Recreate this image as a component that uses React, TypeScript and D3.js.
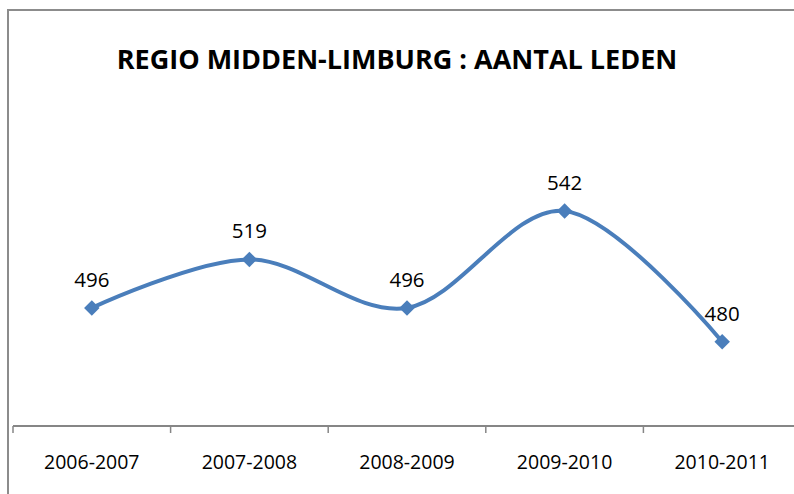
import React from "react";
import * as d3 from "d3";

const categories = ["2006-2007", "2007-2008", "2008-2009", "2009-2010", "2010-2011"];
const members = [496, 519, 496, 542, 480];
const title = "REGIO MIDDEN-LIMBURG : AANTAL LEDEN";

const W = 794;
const H = 494;

export default function App() {
  const plotLeft = 13;
  const plotRight = 801;
  const axisY = 426;
  const x = d3.scaleBand<string>().domain(categories).range([plotLeft, plotRight]);
  const y = d3.scaleLinear().domain([440, 560]).range([axisY, 173]);
  const cx = (c: string) => (x(c) as number) + x.bandwidth() / 2;
  const pts: [number, number][] = categories.map((c, i) => [cx(c), y(members[i])]);
  const line = d3.line().curve(d3.curveCardinal.tension(0))(pts) as string;
  const diamond = d3.symbol().type(d3.symbolSquare).size(120)() as string;
  const bounds = [...categories.map((c) => x(c) as number), plotRight];
  const font = "'Open Sans', 'Liberation Sans', sans-serif";

  return (
    <svg
      width={W}
      height={H}
      style={{ position: "absolute", left: 0, top: 0, background: "#fff" }}
    >
      <rect x={8} y={10} width={W + 20} height={H + 20} fill="#fff" stroke="#8c8c8c" strokeWidth={2} />
      <text
        x={397}
        y={69}
        textAnchor="middle"
        fontFamily={font}
        fontWeight="bold"
        fontSize={27}
        fill="#000"
      >
        {title}
      </text>
      <line x1={plotLeft} x2={plotRight} y1={axisY} y2={axisY} stroke="#868686" strokeWidth={2} />
      {bounds.map((b, i) => (
        <line key={i} x1={b} x2={b} y1={axisY} y2={axisY + 7} stroke="#868686" strokeWidth={1.5} />
      ))}
      {categories.map((c) => (
        <text key={c} x={cx(c)} y={469} textAnchor="middle" fontFamily={font} fontSize={19.5} fill="#000">
          {c}
        </text>
      ))}
      <path d={line} fill="none" stroke="#4a7ebb" strokeWidth={4} />
      {pts.map(([px, py], i) => (
        <path key={i} d={diamond} transform={`translate(${px},${py}) rotate(45)`} fill="#4a7ebb" />
      ))}
      {pts.map(([px, py], i) => (
        <text key={"l" + i} x={px} y={py - 21} textAnchor="middle" fontFamily={font} fontSize={20.5} fill="#000">
          {members[i]}
        </text>
      ))}
    </svg>
  );
}
